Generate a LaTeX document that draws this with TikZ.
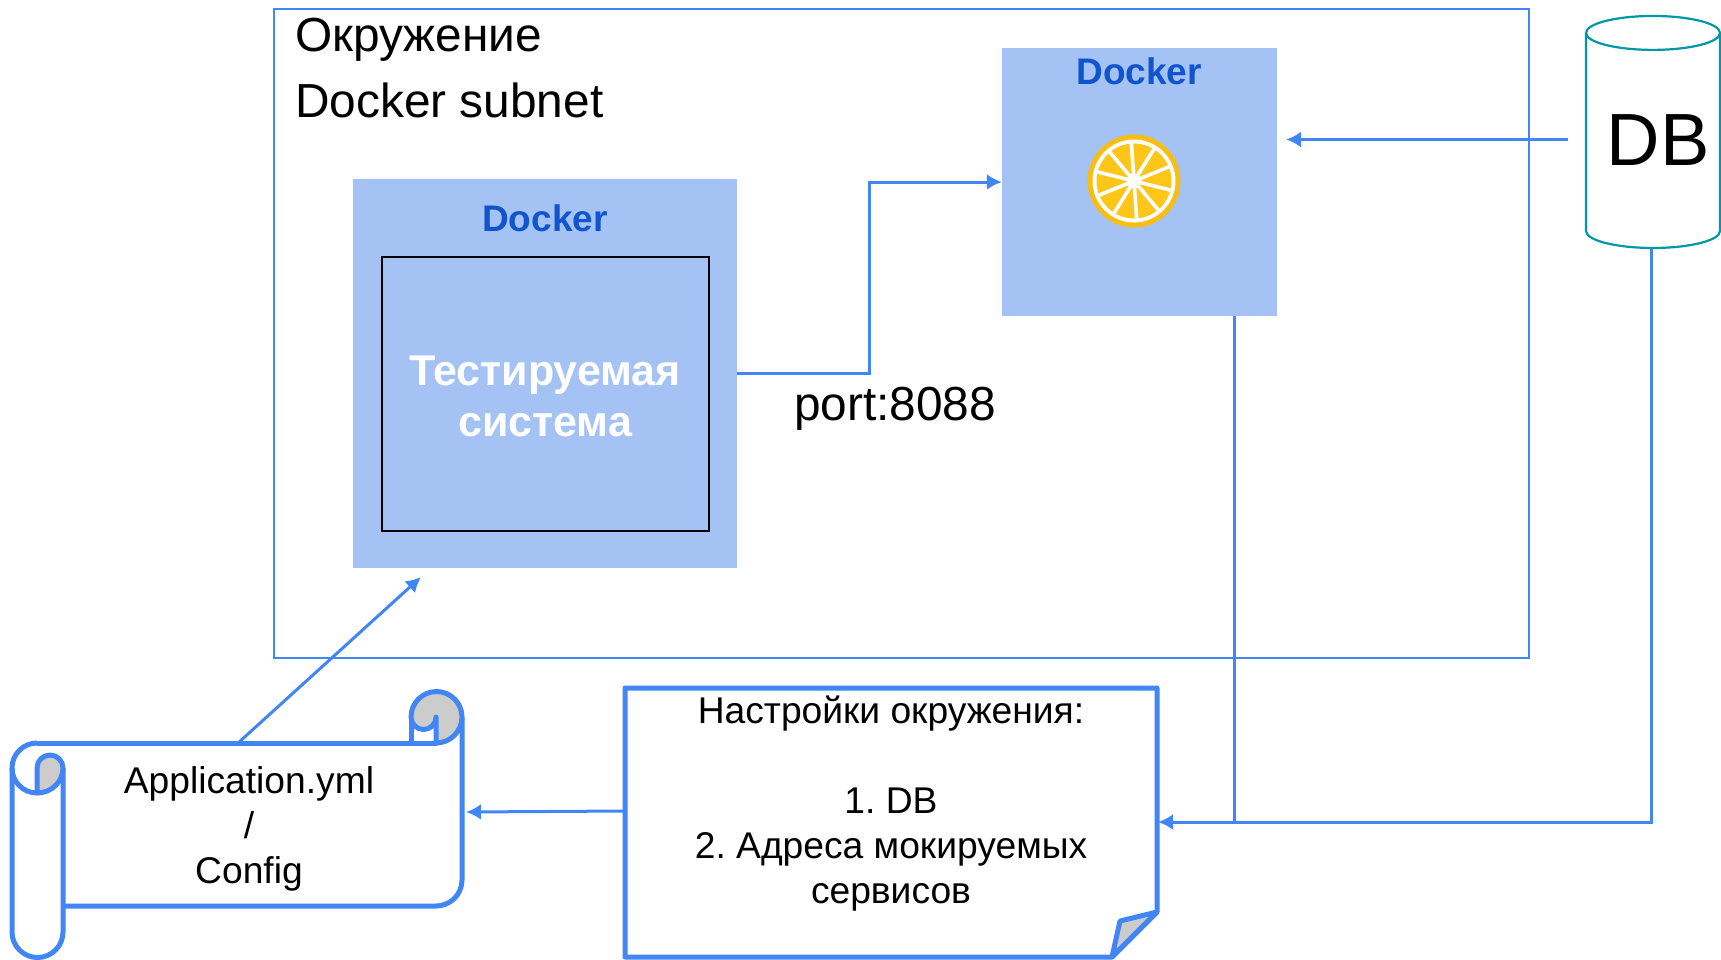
\documentclass[tikz,border=0pt]{standalone}
\usepackage{fontspec}
\setmainfont{Liberation Sans}
\usetikzlibrary{shapes.geometric,arrows.meta}
\definecolor{lineblue}{HTML}{4285F4}
\definecolor{dockerfill}{HTML}{A4C2F4}
\definecolor{dockertext}{HTML}{1155CC}
\definecolor{dbteal}{HTML}{0097A7}
\definecolor{foldgray}{HTML}{CCCCCC}
\definecolor{rind}{HTML}{F9BE0F}
\definecolor{pulp}{HTML}{FFC61A}
\frenchspacing
\tikzset{
  conn/.style={draw=lineblue, line width=3pt, -{Latex[length=15pt,width=16pt]}},
  plainconn/.style={draw=lineblue, line width=3pt},
  paper/.style={draw=lineblue, line width=5pt, line join=round},
  dockerbox/.style={rectangle, fill=dockerfill, inner sep=0pt},
  dockerlabel/.style={text=dockertext, font=\fontsize{37}{42}\selectfont\bfseries},
  biglabel/.style={font=\fontsize{47.8}{66}\selectfont, inner sep=0pt},
  notelabel/.style={font=\fontsize{37.2}{45}\selectfont, align=center, inner sep=0pt}
}
\begin{document}
\begin{tikzpicture}[x=1pt,y=-1pt]
\useasboundingbox (0,0) rectangle (1721,959);
% environment
\node[draw=lineblue, line width=2pt, rectangle, inner sep=0pt, minimum width=1255pt, minimum height=649pt] (env) at (901.5,333.5) {};
\node[biglabel, anchor=north west, align=left] (envtext) at (295,18) {Окружение\\Docker subnet};
% containers
\node[dockerbox, minimum width=384pt, minimum height=389pt] (dockerL) at (544.5,373.5) {};
\node[dockerbox, minimum width=275pt, minimum height=268pt] (dockerR) at (1139.5,182) {};
\node[dockerlabel] (dockerLtext) at (545,218) {Docker};
\node[dockerlabel] (dockerRtext) at (1139,71) {Docker};
\node[draw=black, line width=1.6pt, rectangle, inner sep=0pt, minimum width=327pt, minimum height=274pt] (sut) at (545.5,394) {};
\node[text=white, align=center, inner sep=0pt, font=\fontsize{43}{51}\selectfont\bfseries] (suttext) at (545,396) {Тестируемая\\система};
% lemon
\fill[rind] (1134,181) circle (46.5);
\fill[white] (1134,181) circle (41.5);
\fill[pulp] (1134,181) circle (37.5);
\foreach \a in {14,50,...,338}
  \draw[white, line width=3.6pt] (1134,181) -- ++(\a:39);
\node[circle, fill=white, inner sep=0pt, minimum size=15pt] (lemon) at (1134,181) {};
% database
\node[draw=dbteal, line width=2.2pt, cylinder, shape border rotate=90, aspect=0.33, inner sep=0pt, minimum width=134pt, minimum height=232pt, font=\fontsize{74}{80}\selectfont] (db) at (1653,141) {\phantom{DB}};
\node[font=\fontsize{74}{80}\selectfont, inner sep=0pt] (dbtext) at (1658,140) {DB};
% note
\coordinate (noteA) at (625,688);
\coordinate (noteB) at (1157,688);
\coordinate (noteC) at (1157,912);
\coordinate (noteD) at (1112,957);
\coordinate (noteE) at (625,957);
\coordinate (foldtip) at (1120,921);
\draw[paper] (noteA) -- (noteB) -- (noteC) -- (noteD) -- (noteE) -- cycle;
\draw[paper, fill=foldgray] (noteC) -- (foldtip) -- (noteD) -- cycle;
\node[notelabel] (notetext) at (891,804) {Настройки окружения:\\[45pt]1. DB\\2. Адреса мокируемых\\сервисов};
% scroll
\draw[paper] (37,743) -- (436,743);
\draw[paper] (63,906) -- (436,906) arc[start angle=90, end angle=0, radius=26] -- (462,717);
\draw[paper, fill=white] (411,743) -- (411,717) -- (436,717) -- (436,743) -- cycle;
\draw[paper, fill=foldgray] (436,743) arc[start angle=90, end angle=0, radius=26] arc[start angle=0, end angle=-180, radius=25.5] arc[start angle=180, end angle=0, radius=12.5] -- cycle;
\draw[paper] (37,743) arc[start angle=-90, end angle=-180, radius=25] -- (12,932) arc[start angle=180, end angle=0, radius=25.5] -- (63,768);
\draw[paper] (12,768) arc[start angle=180, end angle=90, radius=25];
\draw[paper, fill=foldgray] (37,793) arc[start angle=90, end angle=0, x radius=26, y radius=25] arc[start angle=0, end angle=-180, radius=13] -- cycle;
\node[notelabel] (scrolltext) at (249,829) {Application.yml\\/\\Config};
\node[biglabel] (porttext) at (895,409) {port:8088};
% connectors
\coordinate (dbW) at (1568,139.5);
\coordinate (dockerRin) at (1286,139.5);
\coordinate (corner1) at (869,373);
\coordinate (corner2) at (869,182);
\coordinate (dockerLout) at (dockerL.east |- corner1);
\coordinate (busR) at (1234,0 |- dockerR.south);
\coordinate (noteIn) at (1158,822);
\coordinate (busDB) at (1651,822);
\coordinate (dbS) at (1651,249);
\coordinate (noteOut) at (625,811);
\coordinate (scrollIn) at (466,812);
\coordinate (scrollTop) at (238,743);
\coordinate (dockerLin) at (421,577);
\draw[conn] (dbW) -- (dockerRin);
\draw[conn] (dockerLout) -- (corner1) -- (corner2) -- (dockerR.west);
\draw[plainconn] (busR) -- (1234,822);
\draw[conn] (dbS) -- (busDB) -- (noteIn);
\draw[conn] (noteOut) -- (scrollIn);
\draw[conn] (scrollTop) -- (dockerLin);
\end{tikzpicture}
\end{document}
